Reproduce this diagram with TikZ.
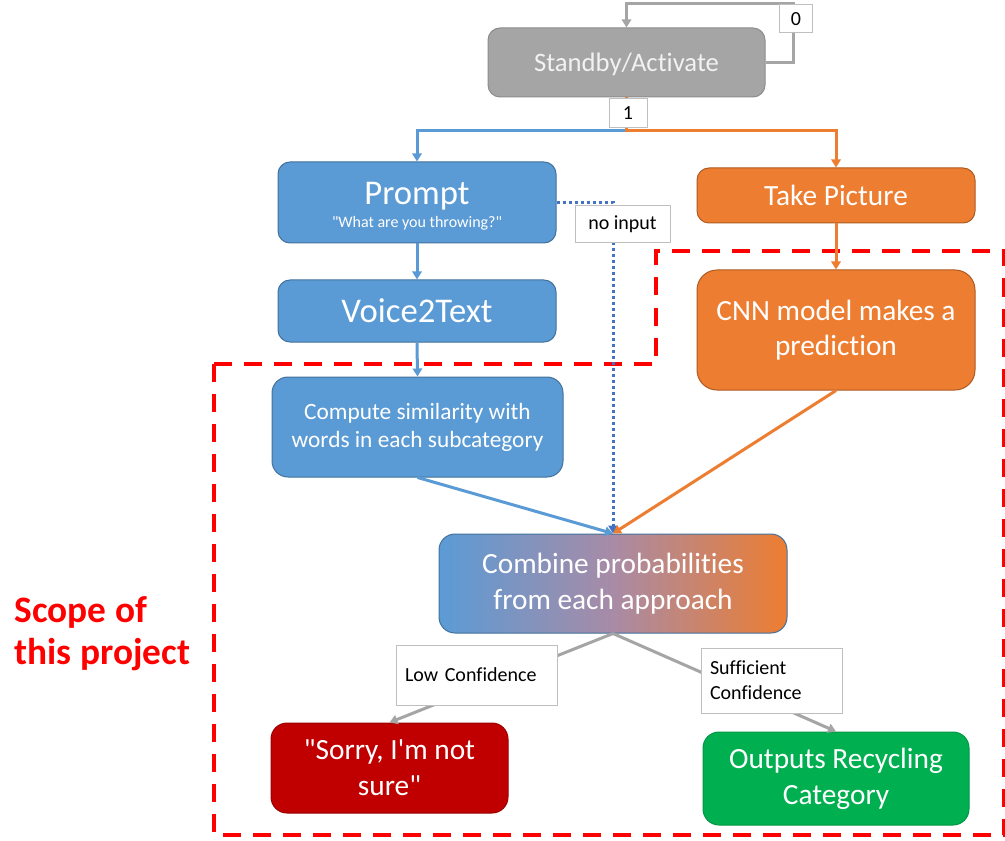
\documentclass[tikz,border=0pt]{standalone}
\usepackage{fontspec}
\newfontfamily\calfont{Carlito}[Ligatures=NoCommon]
\usetikzlibrary{arrows.meta,calc}
\definecolor{bluef}{HTML}{5B9BD5}
\definecolor{blued}{HTML}{41719C}
\definecolor{orangef}{HTML}{ED7D31}
\definecolor{oranged}{HTML}{AE5A21}
\definecolor{grayf}{HTML}{A5A5A5}
\definecolor{grayd}{HTML}{8C8C8C}
\definecolor{redf}{HTML}{C00000}
\definecolor{greenf}{HTML}{00B050}
\definecolor{dotblue}{HTML}{4472C4}
\definecolor{scopered}{HTML}{FF0000}
\definecolor{labelborder}{HTML}{BFBFBF}
\definecolor{lighttext}{HTML}{F2F2F2}
\definecolor{midmauve}{HTML}{A88BA6}
\begin{document}
\begin{tikzpicture}[x=0.75pt,y=-0.75pt,
  font=\calfont,
  box/.style={rectangle, rounded corners=9pt, draw, line width=0.75pt, inner sep=0pt, align=center, text=white},
  lab/.style={rectangle, draw=labelborder, fill=white, line width=0.75pt, inner sep=0pt, font=\calfont\fontsize{15}{18.5}\selectfont},
  tip/.style={-{Triangle[width=7pt,length=6pt]}},
  garr/.style={tip, draw=grayf, line width=2.25pt},
  barr/.style={tip, draw=bluef, line width=2.25pt},
  oarr/.style={tip, draw=orangef, line width=2.25pt},
  dotarr/.style={-{Triangle[width=7pt,length=6pt]}, draw=dotblue, line width=2.25pt, dash pattern=on 2.25pt off 2.25pt},
  scope/.style={draw=scopered, line width=3pt, dash pattern=on 13.5pt off 9pt}
]
\useasboundingbox (0,0) rectangle (1005,841);

% scope region
\draw[scope] (214,363.5) -- (656,363.5) -- (656,251) -- (1004,251) -- (1004,835) -- (214,835) -- cycle;
\node[anchor=base west, text=scopered, align=left, font=\calfont\bfseries\fontsize{28}{31}\selectfont] (scopetext) at (10,664) {Scope of\\this project};

% boxes
\node[box, fill=grayf, draw=grayd, text=lighttext, minimum width=277*0.75pt, minimum height=69*0.75pt, font=\calfont\fontsize{20}{24}\selectfont] (standby) at (626.5,62.5) {};
\node[anchor=base, text=lighttext, font=\calfont\fontsize{20}{24}\selectfont] (standbytext) at (626.5,72) {Standby/Activate};
\node[box, fill=bluef, draw=blued, minimum width=278*0.75pt, minimum height=81*0.75pt] (prompt) at (417,202.5) {};
\node[anchor=base, text=white, font=\calfont\fontsize{26}{30}\selectfont] (prompttitle) at (417,205) {Prompt};
\node[anchor=base, text=white, font=\calfont\fontsize{12}{14}\selectfont] (promptsub) at (417,228) {"What are you throwing?"};
\node[box, fill=bluef, draw=blued, minimum width=278*0.75pt, minimum height=62*0.75pt, font=\calfont\fontsize{26}{30}\selectfont] (voice) at (417,311) {Voice2Text};
\node[box, fill=bluef, draw=blued, minimum width=291*0.75pt, minimum height=100*0.75pt, rounded corners=12pt, font=\calfont\fontsize{17.5}{21}\selectfont] (compute) at (417.5,427) {Compute similarity with\\words in each subcategory};
\node[box, fill=orangef, draw=oranged, minimum width=278*0.75pt, minimum height=55*0.75pt, font=\calfont\fontsize{22}{26}\selectfont] (take) at (836,195.5) {Take Picture};
\node[box, fill=orangef, draw=oranged, minimum width=278*0.75pt, minimum height=120*0.75pt, rounded corners=15pt, font=\calfont\fontsize{22}{26.5}\selectfont] (cnn) at (836,330) {CNN model makes a\\prediction};
\node[box, left color=bluef, right color=orangef, middle color=midmauve, draw=blued, minimum width=348*0.75pt, minimum height=99*0.75pt, rounded corners=12pt, font=\calfont\fontsize{22}{27}\selectfont] (combine) at (613,583.5) {Combine probabilities\\from each approach};
\node[box, fill=redf, draw=redf!80!black, minimum width=237*0.75pt, minimum height=90*0.75pt, rounded corners=12pt, font=\calfont\fontsize{22}{27}\selectfont] (sorry) at (389.5,768) {"Sorry, I'm not\\sure"};
\node[box, fill=greenf, draw=greenf!85!black, minimum width=266*0.75pt, minimum height=93*0.75pt, rounded corners=12pt, font=\calfont\fontsize{22}{27}\selectfont] (outputs) at (836,778.5) {Outputs Recycling\\Category};

% connectors
\draw[garr] (standby.east) -- (793,62.5) -- (793,4) -- (626.5,4) -- (standby.north);
\draw[barr] (standby.south) -- (626.5,131) -| (prompt.north);
\draw[oarr] (standby.south) -- (626.5,131) -| (take.north);
\draw[dotarr] (prompt.east) -| (combine.north);
\draw[barr] (prompt.south) -- (voice.north);
\draw[barr] (voice.south) -- (compute.north);
\draw[oarr] (take.south) -- (cnn.north);
\draw[barr] (compute.south) -- (combine.north);
\draw[oarr] (cnn.south) -- (combine.north);
\draw[garr] (combine.south) -- (sorry.north);
\draw[garr] (combine.south) -- (outputs.north);

% labels
\node[lab, minimum width=33*0.75pt, minimum height=28*0.75pt] (lab0) at (796,19) {0};
\node[lab, minimum width=38*0.75pt, minimum height=29*0.75pt] (lab1) at (628,113.5) {1};
\node[lab, minimum width=95*0.75pt, minimum height=37*0.75pt] (noinput) at (622.5,224.5) {no input};
\node[lab, minimum width=161*0.75pt, minimum height=60*0.75pt, text width=143*0.75pt, align=left] (lowlab) at (476.5,675) {Low Confidence};
\node[lab, minimum width=141*0.75pt, minimum height=65*0.75pt, text width=123*0.75pt, align=left] (suflab) at (771.5,680.5) {Sufficient\\Confidence};
\end{tikzpicture}
\end{document}
